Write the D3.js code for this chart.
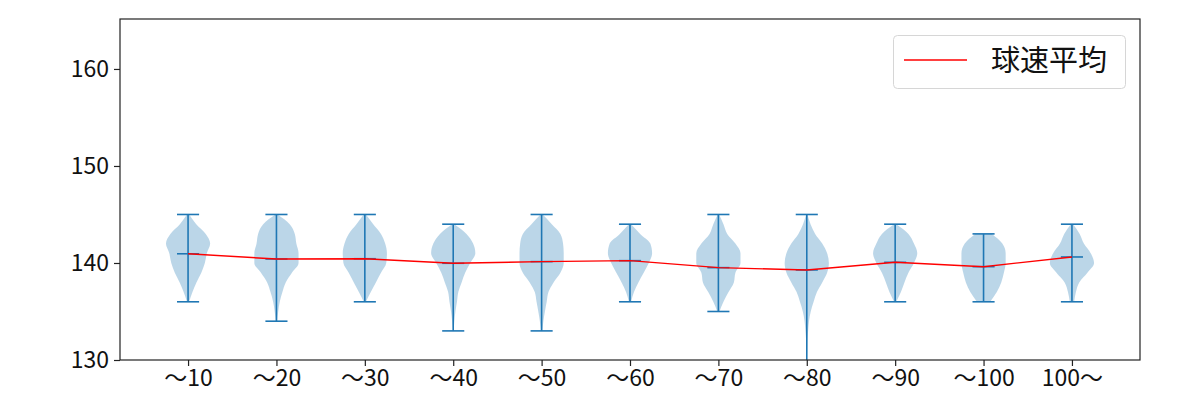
<!DOCTYPE html>
<html>
<head>
<meta charset="utf-8">
<script src="https://cdn.jsdelivr.net/npm/d3@7"></script>
<style>
  body { margin: 0; background: #fff; }
  text { font-family: "Noto Sans CJK JP", "Noto Sans", sans-serif; }
</style>
</head>
<body>
<div id="chart"></div>
<script>
const categories = ['〜10', '〜20', '〜30', '〜40', '〜50', '〜60', '〜70', '〜80', '〜90', '〜100', '100〜'];
const means = [140.95, 140.41, 140.44, 139.97, 140.14, 140.24, 139.52, 139.28, 140.07, 139.62, 140.62];
const mins = [136, 134, 136, 133, 133, 136, 135, 128, 136, 136, 136];
const maxs = [145, 145, 145, 144, 145, 144, 145, 145, 144, 143, 144];
// relative violin width at each whole km/h, from min up to max
const densities = [
    [0.05, 0.2, 0.38, 0.6, 0.76, 0.85, 1.0, 0.8, 0.37, 0.05],
    [0.03, 0.08, 0.15, 0.27, 0.42, 0.7, 1.0, 1.0, 0.9, 0.83, 0.6, 0.05],
    [0.05, 0.27, 0.5, 0.73, 0.97, 1.0, 0.92, 0.73, 0.38, 0.05],
    [0.02, 0.05, 0.1, 0.17, 0.23, 0.38, 0.54, 0.77, 1.0, 0.9, 0.6, 0.05],
    [0.03, 0.08, 0.15, 0.23, 0.31, 0.54, 0.85, 1.0, 1.0, 0.97, 0.85, 0.46, 0.05],
    [0.05, 0.18, 0.38, 0.62, 0.85, 1.0, 0.92, 0.46, 0.05],
    [0.05, 0.23, 0.46, 0.7, 0.77, 1.0, 1.0, 0.77, 0.4, 0.23, 0.03],
    [0.0, 0.01, 0.01, 0.02, 0.03, 0.06, 0.1, 0.18, 0.31, 0.46, 0.7, 0.92, 1.0, 0.92, 0.7, 0.38, 0.17, 0.03],
    [0.05, 0.26, 0.42, 0.6, 0.85, 1.0, 0.85, 0.6, 0.05],
    [0.3, 0.6, 0.8, 0.92, 1.0, 1.0, 0.85, 0.38],
    [0.1, 0.18, 0.33, 0.7, 1.0, 0.85, 0.54, 0.35, 0.05]
];
const yTicks = [130, 140, 150, 160];
const legendLabel = '球速平均';

const width = 1200;
const height = 400;
const margin = {top: 19, right: 60, bottom: 40, left: 120};

const svg = d3.select('#chart')
    .append('svg')
    .attr('width', width)
    .attr('height', height);

const x = d3.scaleLinear()
    .domain([0.23, 11.77])
    .range([margin.left, width - margin.right]);

const y = d3.scaleLinear()
    .domain([130, 165.15])
    .range([height - margin.bottom, margin.top]);

svg.append('clipPath')
    .attr('id', 'plot-clip')
    .append('rect')
    .attr('x', margin.left)
    .attr('y', margin.top)
    .attr('width', width - margin.left - margin.right)
    .attr('height', height - margin.top - margin.bottom);

const plot = svg.append('g').attr('clip-path', 'url(#plot-clip)');

const halfW = x(1.25) - x(1);
const capW = x(1.125) - x(1);
const blue = '#1f77b4';

const violins = categories.map((c, i) => ({
    pos: i + 1,
    pts: densities[i].map((d, k) => ({v: mins[i] + k, d: d}))
}));

violins.forEach(vl => {
    const cx = x(vl.pos);
    const area = d3.area()
        .y(p => y(p.v))
        .x0(p => cx - p.d * halfW)
        .x1(p => cx + p.d * halfW)
        .curve(d3.curveMonotoneY);
    plot.append('path')
        .datum(vl.pts)
        .attr('d', area)
        .attr('fill', blue)
        .attr('fill-opacity', 0.3);
});

const lines = plot.append('g')
    .attr('stroke', blue)
    .attr('stroke-width', 1.6);

lines.selectAll('.bar')
    .data(categories)
    .join('line')
    .attr('x1', (d, i) => x(i + 1))
    .attr('x2', (d, i) => x(i + 1))
    .attr('y1', (d, i) => y(mins[i]))
    .attr('y2', (d, i) => y(maxs[i]));

[mins, maxs, means].forEach(arr => {
    lines.append('g')
        .selectAll('line')
        .data(arr)
        .join('line')
        .attr('x1', (d, i) => x(i + 1) - capW)
        .attr('x2', (d, i) => x(i + 1) + capW)
        .attr('y1', d => y(d))
        .attr('y2', d => y(d));
});

plot.append('path')
    .datum(means)
    .attr('fill', 'none')
    .attr('stroke', 'red')
    .attr('stroke-width', 1.4)
    .attr('d', d3.line().x((d, i) => x(i + 1)).y(d => y(d)));

// axes
const xAxis = g => g
    .attr('transform', `translate(0, ${height - margin.bottom})`)
    .call(d3.axisBottom(x)
        .tickValues(d3.range(1, categories.length + 1))
        .tickFormat(i => categories[i - 1])
        .tickSize(6)
        .tickPadding(4))
    .call(g => g.select('.domain').remove())
    .attr('font-size', 23)
    .attr('font-family', '"Noto Sans CJK JP", sans-serif');

const yAxis = g => g
    .attr('transform', `translate(${margin.left}, 0)`)
    .call(d3.axisLeft(y).tickValues(yTicks).tickSize(6).tickPadding(5))
    .call(g => g.select('.domain').remove())
    .attr('font-size', 23)
    .attr('font-family', '"Noto Sans CJK JP", sans-serif');

svg.append('g').call(xAxis);
svg.append('g').call(yAxis);
svg.selectAll('.tick line').attr('stroke', '#222').attr('stroke-width', 1.2);
svg.selectAll('.tick text').attr('fill', '#111');

svg.append('rect')
    .attr('x', margin.left)
    .attr('y', margin.top)
    .attr('width', width - margin.left - margin.right)
    .attr('height', height - margin.top - margin.bottom)
    .attr('fill', 'none')
    .attr('stroke', '#222')
    .attr('stroke-width', 1.2);

// legend
const legend = svg.append('g');
legend.append('rect')
    .attr('x', 893.5)
    .attr('y', 35.5)
    .attr('width', 232)
    .attr('height', 53)
    .attr('rx', 4)
    .attr('fill', '#fff')
    .attr('stroke', '#d6d6d6');
legend.append('line')
    .attr('x1', 904).attr('x2', 967)
    .attr('y1', 60).attr('y2', 60)
    .attr('stroke', 'red')
    .attr('stroke-width', 1.4);
legend.append('text')
    .attr('x', 991)
    .attr('y', 61)
    .attr('dy', '0.35em')
    .attr('font-size', 29)
    .attr('fill', '#111')
    .text(legendLabel);
</script>
</body>
</html>
